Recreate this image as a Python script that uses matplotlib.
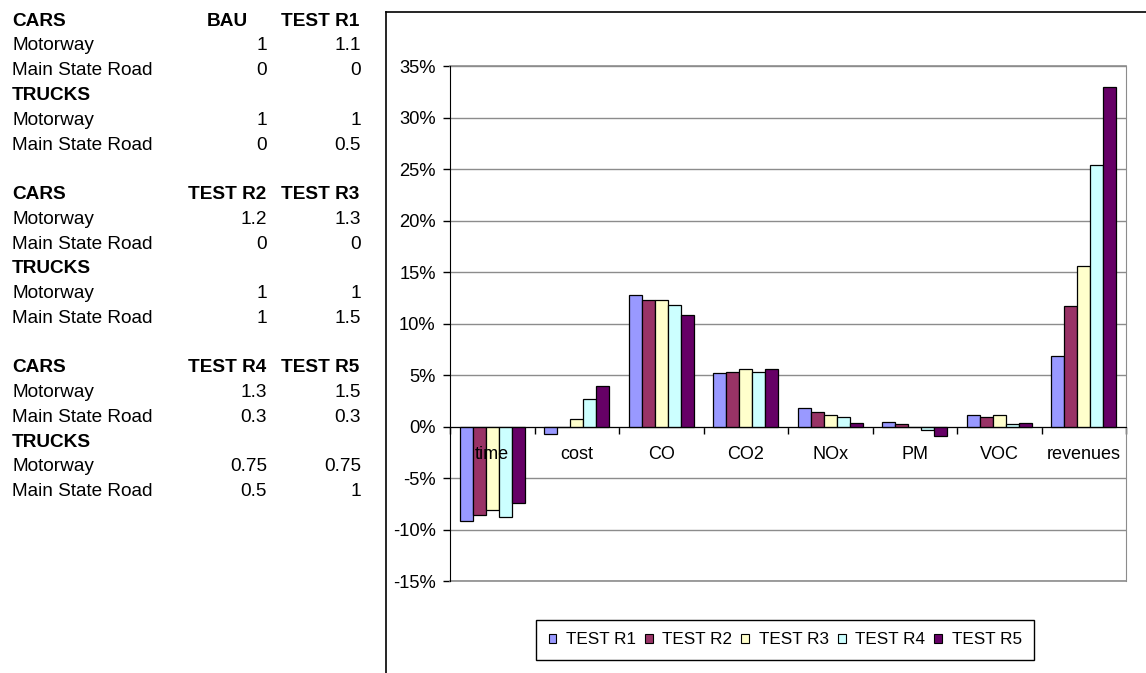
import numpy as np
import matplotlib
matplotlib.use('Agg')
import matplotlib.pyplot as plt
from matplotlib.patches import Rectangle
from matplotlib.lines import Line2D
import matplotlib.transforms as mtransforms

plt.rcParams['font.family'] = ['Liberation Sans', 'DejaVu Sans']

# ---------------- data ----------------
table_headers = [["BAU", "TEST R1"], ["TEST R2", "TEST R3"], ["TEST R4", "TEST R5"]]
cars_motorway = [[1, 1.1], [1.2, 1.3], [1.3, 1.5]]
cars_main_state_road = [[0, 0], [0, 0], [0.3, 0.3]]
trucks_motorway = [[1, 1], [1, 1], [0.75, 0.75]]
trucks_main_state_road = [[0, 0.5], [1, 1.5], [0.5, 1]]

categories = ["time", "cost", "CO", "CO2", "NOx", "PM", "VOC", "revenues"]
series_names = ["TEST R1", "TEST R2", "TEST R3", "TEST R4", "TEST R5"]
# values in percent, per category: R1..R5
time_vals = [-9.17, -8.6, -8.1, -8.8, -7.46]
cost_vals = [-0.75, 0.0, 0.74, 2.7, 3.9]
co_vals = [12.8, 12.3, 12.25, 11.8, 10.85]
co2_vals = [5.2, 5.3, 5.6, 5.3, 5.6]
nox_vals = [1.77, 1.39, 1.1, 0.94, 0.36]
pm_vals = [0.45, 0.22, 0.0, -0.36, -0.9]
voc_vals = [1.1, 0.97, 1.1, 0.2, 0.35]
revenues_vals = [6.83, 11.7, 15.6, 25.4, 33.0]
y_ticks = [-15, -10, -5, 0, 5, 10, 15, 20, 25, 30, 35]

colors = ["#9999FF", "#993366", "#FFFFCC", "#CCFFFF", "#660066"]

# ---------------- figure ----------------
W, H = 1146, 673
fig = plt.figure(figsize=(W / 100, H / 100), dpi=100)


def fx(px):
    return px / W


def fy(py):
    return 1 - py / H


# ---------------- left table ----------------
tfs = 13.7
row0_base = 25.7
pitch = 24.76
x_label = 12
x_head = [227.5, 320]
x_num = [267, 361]


def fmt(v):
    return "{:g}".format(v)


for b in range(3):
    r = b * 7
    def by(i):
        return fy(row0_base + pitch * (r + i))
    fig.text(fx(x_label), by(0), "CARS", fontsize=tfs, fontweight='bold', va='baseline', ha='left')
    for k in range(2):
        fig.text(fx(x_head[k]), by(0), table_headers[b][k], fontsize=tfs, fontweight='bold',
                 va='baseline', ha='center')
    fig.text(fx(x_label), by(1), "Motorway", fontsize=tfs, va='baseline', ha='left')
    fig.text(fx(x_label), by(2), "Main State Road", fontsize=tfs, va='baseline', ha='left')
    fig.text(fx(x_label), by(3), "TRUCKS", fontsize=tfs, fontweight='bold', va='baseline', ha='left')
    fig.text(fx(x_label), by(4), "Motorway", fontsize=tfs, va='baseline', ha='left')
    fig.text(fx(x_label), by(5), "Main State Road", fontsize=tfs, va='baseline', ha='left')
    for k in range(2):
        fig.text(fx(x_num[k]), by(1), fmt(cars_motorway[b][k]), fontsize=tfs, va='baseline', ha='right')
        fig.text(fx(x_num[k]), by(2), fmt(cars_main_state_road[b][k]), fontsize=tfs, va='baseline', ha='right')
        fig.text(fx(x_num[k]), by(4), fmt(trucks_motorway[b][k]), fontsize=tfs, va='baseline', ha='right')
        fig.text(fx(x_num[k]), by(5), fmt(trucks_main_state_road[b][k]), fontsize=tfs, va='baseline', ha='right')

# ---------------- chart frame ----------------
fig.add_artist(Line2D([fx(386), fx(386)], [fy(12), 0], color='black', lw=1.2, transform=fig.transFigure))
fig.add_artist(Line2D([fx(386), 1], [fy(12), fy(12)], color='black', lw=1.2, transform=fig.transFigure))

# ---------------- bar chart ----------------
ax = fig.add_axes([fx(450), fy(581), (1126 - 450) / W, (581 - 66) / H])
data = np.array([time_vals, cost_vals, co_vals, co2_vals, nox_vals, pm_vals, voc_vals, revenues_vals])
x = np.arange(len(categories)) + 0.5
w = 0.154
for j in range(len(series_names)):
    ax.bar(x + (j - 2) * w, data[:, j], w, color=colors[j], edgecolor='black', linewidth=0.9,
           label=series_names[j], zorder=2)

ax.set_xlim(0, len(categories))
ax.set_ylim(y_ticks[0], y_ticks[-1])
ax.set_yticks(y_ticks)
ax.set_yticklabels(["{}%".format(t) for t in y_ticks], fontsize=13.2)
ax.yaxis.grid(True, color='#8c8c8c', lw=1)
ax.set_axisbelow(True)
ax.tick_params(axis='y', direction='out', length=5, width=1, pad=5.3, color='black')
# plot-area border at the bottom and top (grey, like the gridlines)
ax.axhline(y_ticks[0], color='#8c8c8c', lw=1.2, clip_on=False, zorder=0.6)
ax.axhline(y_ticks[-1], color='#8c8c8c', lw=1.2, clip_on=False, zorder=0.6)

ax.spines['top'].set_visible(False)
ax.spines['right'].set_color('#8c8c8c')
ax.spines['left'].set_color('black')
ax.spines['bottom'].set_position(('data', 0))
ax.spines['bottom'].set_color('black')
ax.spines['bottom'].set_zorder(3)
ax.set_xticks(np.arange(len(categories) + 1))
ax.set_xticklabels([])
ax.tick_params(axis='x', direction='out', length=5, width=1, color='black')

lab_tr = mtransforms.offset_copy(ax.transData, fig=fig, x=0, y=-28, units='dots')
for i, c in enumerate(categories):
    ax.text(x[i], 0, c, transform=lab_tr, ha='center', va='center', fontsize=13, zorder=5)

# ---------------- legend ----------------
handles = [Rectangle((0, 0), 1, 1, facecolor=colors[j], edgecolor='black', lw=0.8)
           for j in range(len(series_names))]
leg = fig.legend(handles, series_names, loc='center', bbox_to_anchor=(fx(785), fy(640)),
                 ncol=5, frameon=True, fancybox=False, edgecolor='black', framealpha=1,
                 fontsize=12.3, handlelength=0.45, handleheight=0.45, handletextpad=0.55,
                 columnspacing=0.55, borderpad=0.75)
leg.get_frame().set_linewidth(1)

fig.savefig("out.png", dpi=100)
